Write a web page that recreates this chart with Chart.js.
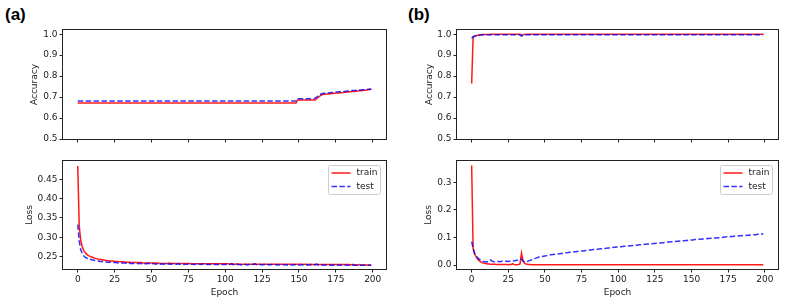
<!DOCTYPE html>
<html>
<head>
<meta charset="utf-8">
<script src="https://cdn.jsdelivr.net/npm/chart.js@4.4.0/dist/chart.umd.min.js"></script>
<style>
  body { margin: 0; background: #fff; width: 789px; height: 299px; position: relative; overflow: hidden; }
  canvas { position: absolute; }
  .tag { position: absolute; font: bold 17px "Liberation Sans", Arial, sans-serif; line-height: 20px; color: #000; }
</style>
</head>
<body>
<div class="tag" style="left:5px; top:5px">(a)</div>
<div class="tag" style="left:408px; top:5px">(b)</div>
<canvas id="accA" width="395" height="150" style="left:0; top:0"></canvas>
<canvas id="lossA" width="395" height="149" style="left:0; top:150px"></canvas>
<canvas id="accB" width="394" height="150" style="left:395px; top:0"></canvas>
<canvas id="lossB" width="394" height="149" style="left:395px; top:150px"></canvas>
<script>
// epochs 0..199 and tick positions
const epochs = Array.from({ length: 200 }, (_, i) => i);
const epochTicks = [0, 25, 50, 75, 100, 125, 150, 175, 200];
const accTicks = [0.5, 0.6, 0.7, 0.8, 0.9, 1.0];
const lossTicksA = [0.25, 0.30, 0.35, 0.40, 0.45];
const lossTicksB = [0.0, 0.1, 0.2, 0.3];

// (a) accuracy
const accTrainA = [
  0.672,0.672,0.672,0.672,0.672,0.672,0.672,0.672,0.672,0.672,
  0.672,0.672,0.672,0.672,0.672,0.672,0.672,0.672,0.672,0.672,
  0.672,0.672,0.672,0.672,0.672,0.672,0.672,0.672,0.672,0.672,
  0.672,0.672,0.672,0.672,0.672,0.672,0.672,0.672,0.672,0.672,
  0.672,0.672,0.672,0.672,0.672,0.672,0.672,0.672,0.672,0.672,
  0.672,0.672,0.672,0.672,0.672,0.672,0.672,0.672,0.672,0.672,
  0.672,0.672,0.672,0.672,0.672,0.672,0.672,0.672,0.672,0.672,
  0.672,0.672,0.672,0.672,0.672,0.672,0.672,0.672,0.672,0.672,
  0.672,0.672,0.672,0.672,0.672,0.672,0.672,0.672,0.672,0.672,
  0.672,0.672,0.672,0.672,0.672,0.672,0.672,0.672,0.672,0.672,
  0.672,0.672,0.672,0.672,0.672,0.672,0.672,0.672,0.672,0.672,
  0.672,0.672,0.672,0.672,0.672,0.672,0.672,0.672,0.672,0.672,
  0.672,0.672,0.672,0.672,0.672,0.672,0.672,0.672,0.672,0.672,
  0.672,0.672,0.672,0.672,0.672,0.672,0.672,0.672,0.672,0.672,
  0.672,0.672,0.672,0.672,0.672,0.672,0.672,0.672,0.672,0.686,
  0.686,0.686,0.686,0.686,0.686,0.686,0.686,0.686,0.686,0.686,
  0.686,0.686,0.692,0.698,0.704,0.709,0.712,0.713,0.714,0.715,
  0.715,0.716,0.717,0.717,0.718,0.719,0.719,0.720,0.721,0.721,
  0.722,0.723,0.723,0.724,0.725,0.725,0.726,0.727,0.727,0.728,
  0.729,0.730,0.730,0.731,0.732,0.733,0.734,0.735,0.736,0.737
];
const accTestA = [
  0.681,0.681,0.681,0.681,0.681,0.681,0.681,0.681,0.681,0.681,
  0.681,0.681,0.681,0.681,0.681,0.681,0.681,0.681,0.681,0.681,
  0.681,0.681,0.681,0.681,0.681,0.681,0.681,0.681,0.681,0.681,
  0.681,0.681,0.681,0.681,0.681,0.681,0.681,0.681,0.681,0.681,
  0.681,0.681,0.681,0.681,0.681,0.681,0.681,0.681,0.681,0.681,
  0.681,0.681,0.681,0.681,0.681,0.681,0.681,0.681,0.681,0.681,
  0.681,0.681,0.681,0.681,0.681,0.681,0.681,0.681,0.681,0.681,
  0.681,0.681,0.681,0.681,0.681,0.681,0.681,0.681,0.681,0.681,
  0.681,0.681,0.681,0.681,0.681,0.681,0.681,0.681,0.681,0.681,
  0.681,0.681,0.681,0.681,0.681,0.681,0.681,0.681,0.681,0.681,
  0.681,0.681,0.681,0.681,0.681,0.681,0.681,0.681,0.681,0.681,
  0.681,0.681,0.681,0.681,0.681,0.681,0.681,0.681,0.681,0.681,
  0.681,0.681,0.681,0.681,0.681,0.681,0.681,0.681,0.681,0.681,
  0.681,0.681,0.681,0.681,0.681,0.681,0.681,0.681,0.681,0.681,
  0.681,0.681,0.681,0.681,0.681,0.681,0.681,0.681,0.681,0.692,
  0.692,0.692,0.692,0.692,0.692,0.692,0.692,0.692,0.692,0.692,
  0.692,0.695,0.700,0.706,0.711,0.715,0.717,0.718,0.719,0.720,
  0.720,0.721,0.722,0.722,0.723,0.724,0.724,0.725,0.726,0.726,
  0.727,0.727,0.728,0.729,0.729,0.730,0.731,0.731,0.732,0.733,
  0.733,0.734,0.734,0.735,0.735,0.736,0.736,0.737,0.737,0.738
];

// (a) loss
const lossTrainA = [
  0.485,0.330,0.292,0.276,0.266,0.260,0.256,0.253,0.251,0.249,
  0.248,0.246,0.245,0.244,0.243,0.242,0.242,0.241,0.240,0.240,
  0.239,0.239,0.238,0.238,0.238,0.237,0.237,0.237,0.236,0.236,
  0.236,0.236,0.235,0.235,0.235,0.235,0.235,0.234,0.234,0.234,
  0.234,0.234,0.234,0.234,0.233,0.233,0.233,0.233,0.233,0.233,
  0.233,0.233,0.233,0.233,0.233,0.232,0.232,0.232,0.232,0.232,
  0.232,0.232,0.233,0.232,0.232,0.232,0.232,0.232,0.232,0.232,
  0.232,0.232,0.232,0.232,0.231,0.232,0.231,0.231,0.231,0.231,
  0.231,0.231,0.231,0.231,0.231,0.231,0.231,0.231,0.231,0.231,
  0.231,0.231,0.231,0.231,0.231,0.231,0.231,0.231,0.231,0.231,
  0.231,0.231,0.231,0.230,0.231,0.231,0.230,0.230,0.231,0.230,
  0.230,0.230,0.230,0.230,0.230,0.230,0.230,0.230,0.230,0.230,
  0.231,0.230,0.230,0.230,0.230,0.230,0.230,0.230,0.230,0.230,
  0.230,0.230,0.230,0.230,0.230,0.230,0.230,0.230,0.230,0.230,
  0.230,0.230,0.230,0.230,0.230,0.230,0.230,0.230,0.230,0.230,
  0.230,0.230,0.230,0.229,0.230,0.230,0.229,0.229,0.230,0.229,
  0.229,0.229,0.229,0.229,0.229,0.229,0.229,0.229,0.229,0.229,
  0.229,0.229,0.229,0.229,0.229,0.229,0.229,0.229,0.229,0.229,
  0.229,0.229,0.229,0.229,0.229,0.228,0.229,0.229,0.228,0.228,
  0.228,0.229,0.228,0.228,0.228,0.228,0.228,0.228,0.228,0.228
];
const lossTestA = [
  0.333,0.290,0.268,0.258,0.252,0.248,0.246,0.244,0.243,0.242,
  0.241,0.240,0.239,0.239,0.238,0.237,0.237,0.236,0.236,0.236,
  0.235,0.235,0.235,0.234,0.234,0.234,0.234,0.233,0.233,0.233,
  0.233,0.233,0.233,0.232,0.233,0.232,0.232,0.232,0.232,0.232,
  0.232,0.231,0.232,0.231,0.232,0.231,0.231,0.231,0.232,0.231,
  0.231,0.231,0.231,0.230,0.231,0.231,0.230,0.231,0.230,0.231,
  0.230,0.231,0.230,0.230,0.231,0.230,0.230,0.230,0.231,0.230,
  0.230,0.230,0.229,0.230,0.230,0.230,0.229,0.230,0.230,0.229,
  0.230,0.229,0.230,0.230,0.229,0.231,0.229,0.230,0.229,0.229,
  0.230,0.229,0.229,0.230,0.229,0.229,0.229,0.230,0.229,0.229,
  0.229,0.230,0.229,0.229,0.231,0.229,0.229,0.228,0.229,0.229,
  0.229,0.228,0.229,0.230,0.229,0.228,0.229,0.229,0.230,0.229,
  0.231,0.229,0.228,0.229,0.229,0.228,0.229,0.229,0.228,0.229,
  0.228,0.229,0.229,0.228,0.229,0.228,0.228,0.229,0.228,0.228,
  0.229,0.228,0.228,0.229,0.228,0.228,0.228,0.229,0.228,0.228,
  0.228,0.228,0.229,0.228,0.228,0.228,0.228,0.229,0.228,0.228,
  0.228,0.229,0.230,0.228,0.228,0.227,0.228,0.228,0.228,0.227,
  0.228,0.228,0.227,0.228,0.227,0.228,0.228,0.227,0.227,0.228,
  0.227,0.228,0.227,0.227,0.228,0.227,0.227,0.228,0.227,0.227,
  0.227,0.228,0.227,0.227,0.227,0.228,0.227,0.227,0.227,0.227
];

// (b) accuracy
const accTrainB = [
  0.765,0.985,0.990,0.993,0.995,0.996,0.997,0.998,0.998,0.999,
  0.999,0.999,0.999,1.000,1.000,1.000,1.000,1.000,1.000,1.000,
  1.000,1.000,1.000,1.000,1.000,1.000,1.000,1.000,1.000,1.000,
  1.000,1.000,1.000,1.000,0.994,0.998,0.999,1.000,1.000,1.000,
  1.000,1.000,1.000,1.000,1.000,1.000,1.000,1.000,1.000,1.000,
  1.000,1.000,1.000,1.000,1.000,1.000,1.000,1.000,1.000,1.000,
  1.000,1.000,1.000,1.000,1.000,1.000,1.000,1.000,1.000,1.000,
  1.000,1.000,1.000,1.000,1.000,1.000,1.000,1.000,1.000,1.000,
  1.000,1.000,1.000,1.000,1.000,1.000,1.000,1.000,1.000,1.000,
  1.000,1.000,1.000,1.000,1.000,1.000,1.000,1.000,1.000,1.000,
  1.000,1.000,1.000,1.000,1.000,1.000,1.000,1.000,1.000,1.000,
  1.000,1.000,1.000,1.000,1.000,1.000,1.000,1.000,1.000,1.000,
  1.000,1.000,1.000,1.000,1.000,1.000,1.000,1.000,1.000,1.000,
  1.000,1.000,1.000,1.000,1.000,1.000,1.000,1.000,1.000,1.000,
  1.000,1.000,1.000,1.000,1.000,1.000,1.000,1.000,1.000,1.000,
  1.000,1.000,1.000,1.000,1.000,1.000,1.000,1.000,1.000,1.000,
  1.000,1.000,1.000,1.000,1.000,1.000,1.000,1.000,1.000,1.000,
  1.000,1.000,1.000,1.000,1.000,1.000,1.000,1.000,1.000,1.000,
  1.000,1.000,1.000,1.000,1.000,1.000,1.000,1.000,1.000,1.000,
  1.000,1.000,1.000,1.000,1.000,1.000,1.000,1.000,1.000,1.000
];
const accTestB = [
  0.981,0.988,0.991,0.993,0.994,0.995,0.996,0.996,0.997,0.997,
  0.997,0.997,0.997,0.997,0.997,0.997,0.997,0.997,0.997,0.997,
  0.997,0.997,0.997,0.997,0.997,0.997,0.997,0.997,0.997,0.997,
  0.997,0.997,0.997,0.997,0.991,0.995,0.996,0.997,0.997,0.997,
  0.997,0.997,0.997,0.997,0.997,0.997,0.997,0.997,0.997,0.997,
  0.997,0.997,0.997,0.997,0.997,0.997,0.997,0.997,0.997,0.997,
  0.997,0.997,0.997,0.997,0.997,0.997,0.997,0.997,0.997,0.997,
  0.997,0.997,0.997,0.997,0.997,0.997,0.997,0.997,0.997,0.997,
  0.997,0.997,0.997,0.997,0.997,0.997,0.997,0.997,0.997,0.997,
  0.997,0.997,0.997,0.997,0.997,0.997,0.997,0.997,0.997,0.997,
  0.997,0.997,0.997,0.997,0.997,0.997,0.997,0.997,0.997,0.997,
  0.997,0.997,0.997,0.997,0.997,0.997,0.997,0.997,0.997,0.997,
  0.997,0.997,0.997,0.997,0.997,0.997,0.997,0.997,0.997,0.997,
  0.997,0.997,0.997,0.997,0.997,0.997,0.997,0.997,0.997,0.997,
  0.997,0.997,0.997,0.997,0.997,0.997,0.997,0.997,0.997,0.997,
  0.997,0.997,0.997,0.997,0.997,0.997,0.997,0.997,0.997,0.997,
  0.997,0.997,0.997,0.997,0.997,0.997,0.997,0.997,0.997,0.997,
  0.997,0.997,0.997,0.997,0.997,0.997,0.997,0.997,0.997,0.997,
  0.997,0.997,0.997,0.997,0.997,0.997,0.997,0.997,0.997,0.997,
  0.997,0.997,0.997,0.997,0.997,0.997,0.997,0.997,0.997,0.997
];

// (b) loss
const lossTrainB = [
  0.360,0.060,0.040,0.030,0.022,0.016,0.012,0.009,0.007,0.006,
  0.005,0.004,0.004,0.003,0.003,0.003,0.003,0.002,0.002,0.002,
  0.002,0.002,0.002,0.002,0.002,0.001,0.002,0.002,0.004,0.002,
  0.001,0.001,0.002,0.004,0.043,0.016,0.007,0.004,0.003,0.002,
  0.002,0.001,0.001,0.001,0.001,0.001,0.001,0.001,0.001,0.001,
  0.001,0.001,0.001,0.001,0.001,0.001,0.001,0.001,0.001,0.001,
  0.001,0.001,0.001,0.001,0.001,0.001,0.001,0.001,0.001,0.001,
  0.001,0.001,0.001,0.001,0.001,0.001,0.001,0.001,0.001,0.001,
  0.001,0.001,0.001,0.001,0.001,0.001,0.001,0.001,0.001,0.001,
  0.001,0.001,0.001,0.001,0.001,0.001,0.001,0.001,0.001,0.001,
  0.001,0.001,0.001,0.001,0.001,0.001,0.001,0.001,0.001,0.001,
  0.001,0.001,0.001,0.001,0.001,0.001,0.001,0.001,0.001,0.001,
  0.001,0.001,0.001,0.001,0.001,0.001,0.001,0.001,0.001,0.001,
  0.001,0.001,0.001,0.001,0.001,0.001,0.001,0.001,0.001,0.001,
  0.001,0.001,0.001,0.001,0.001,0.001,0.001,0.001,0.001,0.001,
  0.001,0.001,0.001,0.001,0.001,0.001,0.001,0.001,0.001,0.001,
  0.001,0.001,0.001,0.001,0.001,0.001,0.001,0.001,0.001,0.001,
  0.001,0.001,0.001,0.001,0.001,0.001,0.001,0.001,0.001,0.001,
  0.001,0.001,0.001,0.001,0.001,0.001,0.001,0.001,0.001,0.001,
  0.001,0.001,0.001,0.001,0.001,0.001,0.001,0.001,0.001,0.001
];
const lossTestB = [
  0.085,0.060,0.042,0.033,0.027,0.022,0.018,0.015,0.013,0.012,
  0.011,0.012,0.013,0.018,0.014,0.012,0.011,0.012,0.013,0.012,
  0.013,0.014,0.013,0.014,0.014,0.013,0.014,0.015,0.016,0.015,
  0.016,0.017,0.018,0.020,0.022,0.014,0.012,0.012,0.013,0.015,
  0.017,0.019,0.021,0.023,0.025,0.027,0.029,0.030,0.031,0.032,
  0.033,0.034,0.035,0.036,0.037,0.038,0.038,0.039,0.040,0.040,
  0.041,0.042,0.042,0.043,0.044,0.044,0.045,0.046,0.046,0.047,
  0.048,0.048,0.049,0.050,0.050,0.051,0.051,0.052,0.053,0.053,
  0.054,0.054,0.055,0.056,0.056,0.057,0.057,0.058,0.059,0.059,
  0.060,0.060,0.061,0.062,0.062,0.063,0.063,0.064,0.064,0.065,
  0.065,0.066,0.066,0.067,0.068,0.068,0.069,0.069,0.070,0.070,
  0.071,0.071,0.072,0.072,0.073,0.073,0.074,0.074,0.075,0.075,
  0.076,0.076,0.077,0.077,0.078,0.078,0.079,0.079,0.080,0.080,
  0.081,0.081,0.082,0.082,0.083,0.083,0.084,0.084,0.085,0.085,
  0.086,0.086,0.087,0.087,0.088,0.088,0.089,0.089,0.090,0.090,
  0.091,0.091,0.092,0.092,0.093,0.093,0.093,0.094,0.094,0.095,
  0.095,0.096,0.096,0.097,0.097,0.098,0.098,0.098,0.099,0.099,
  0.100,0.100,0.101,0.101,0.102,0.102,0.102,0.103,0.103,0.104,
  0.104,0.105,0.105,0.106,0.106,0.107,0.107,0.107,0.108,0.108,
  0.109,0.109,0.110,0.110,0.110,0.111,0.111,0.112,0.112,0.113
];

const trainColor = "rgba(255, 0, 0, 0.9)";
const testColor = "rgba(0, 0, 255, 0.8)";
const ink = "#1a1a1a";
const font = { family: "'DejaVu Sans', sans-serif", size: 9 };

// matplotlib-like frame round the plot area
const spines = {
  id: "spines",
  afterDatasetsDraw(chart) {
    const { ctx, chartArea: a } = chart;
    ctx.save();
    ctx.strokeStyle = "#222";
    ctx.lineWidth = 1;
    ctx.strokeRect(a.left - 0.5, a.top - 0.5, a.width + 1, a.height + 1);
    ctx.restore();
  }
};

// boxed legend in the upper right corner
const boxLegend = {
  id: "boxLegend",
  afterDraw(chart, args, opts) {
    if (!opts.show) return;
    const { ctx, chartArea } = chart;
    const w = 52, h = 29;
    const x = Math.round(chartArea.right - w - 6) + 0.5;
    const y = Math.round(chartArea.top + 4) + 0.5;
    ctx.save();
    ctx.fillStyle = "rgba(255,255,255,0.85)";
    ctx.strokeStyle = "#cccccc";
    ctx.lineWidth = 1;
    ctx.beginPath();
    ctx.roundRect(x, y, w, h, 2);
    ctx.fill();
    ctx.stroke();
    chart.data.datasets.forEach((ds, i) => {
      const ly = y + 7.5 + i * 13.4;
      ctx.strokeStyle = ds.borderColor;
      ctx.lineWidth = ds.borderWidth;
      ctx.setLineDash(ds.borderDash || []);
      ctx.beginPath();
      ctx.moveTo(x + 3, ly);
      ctx.lineTo(x + 22, ly);
      ctx.stroke();
      ctx.setLineDash([]);
      ctx.fillStyle = ink;
      ctx.font = "9px 'DejaVu Sans'";
      ctx.textBaseline = "middle";
      ctx.fillText(ds.label, x + 28, ly);
    });
    ctx.restore();
  }
};

function makePanel(id, cfg) {
  return new Chart(document.getElementById(id), {
    type: "line",
    data: {
      labels: epochs,
      datasets: [
        { label: "train", data: cfg.train, borderColor: trainColor, borderWidth: 1.5, pointRadius: 0, order: 1 },
        { label: "test", data: cfg.test, borderColor: testColor, borderWidth: 1.5, borderDash: [5.5, 2.4], pointRadius: 0, order: 0 }
      ]
    },
    options: {
      responsive: false,
      animation: false,
      events: [],
      layout: { padding: cfg.pad },
      plugins: {
        legend: { display: false },
        tooltip: { enabled: false },
        boxLegend: { show: cfg.legend }
      },
      scales: {
        x: {
          type: "linear",
          min: -10,
          max: 209,
          afterBuildTicks: s => { s.ticks = epochTicks.map(v => ({ value: v })); },
          afterFit: s => { s.height = cfg.xH; },
          ticks: { display: cfg.showX, font, color: ink, padding: 2, maxRotation: 0, autoSkip: false },
          grid: { display: true, drawOnChartArea: false, drawTicks: true, tickLength: 3.5, tickColor: "#222" },
          border: { display: false },
          title: { display: cfg.showX, text: "Epoch", font, color: ink, padding: { top: 0, bottom: 1 } }
        },
        y: {
          min: cfg.yMin,
          max: cfg.yMax,
          afterBuildTicks: s => { s.ticks = cfg.yTicks.map(v => ({ value: v })); },
          afterFit: s => { s.width = cfg.yW; },
          ticks: { font, color: ink, padding: 2, callback: v => v.toFixed(cfg.dec) },
          grid: { display: true, drawOnChartArea: false, drawTicks: true, tickLength: 3.5, tickColor: "#222" },
          border: { display: false },
          title: { display: true, text: cfg.yTitle, font, color: ink, padding: { top: 0, bottom: 0 } }
        }
      }
    },
    plugins: [spines, boxLegend]
  });
}

makePanel("accA", {
  train: accTrainA, test: accTestA, yTitle: "Accuracy", yTicks: accTicks, dec: 1,
  yMin: 0.5, yMax: 1.02, pad: { left: 29, top: 30, right: 9, bottom: 0 }, yW: 34, xH: 11,
  showX: false, legend: false
});
makePanel("lossA", {
  train: lossTrainA, test: lossTestA, yTitle: "Loss", yTicks: lossTicksA, dec: 2,
  yMin: 0.2174, yMax: 0.498, pad: { left: 24, top: 11, right: 9, bottom: 0 }, yW: 39, xH: 30,
  showX: true, legend: true
});
makePanel("accB", {
  train: accTrainB, test: accTestB, yTitle: "Accuracy", yTicks: accTicks, dec: 1,
  yMin: 0.5, yMax: 1.02, pad: { left: 29, top: 30, right: 11, bottom: 0 }, yW: 33, xH: 11,
  showX: false, legend: false
});
makePanel("lossB", {
  train: lossTrainB, test: lossTestB, yTitle: "Loss", yTicks: lossTicksB, dec: 1,
  yMin: -0.0144, yMax: 0.3766, pad: { left: 28, top: 11, right: 11, bottom: 0 }, yW: 34, xH: 30,
  showX: true, legend: true
});
</script>
</body>
</html>
